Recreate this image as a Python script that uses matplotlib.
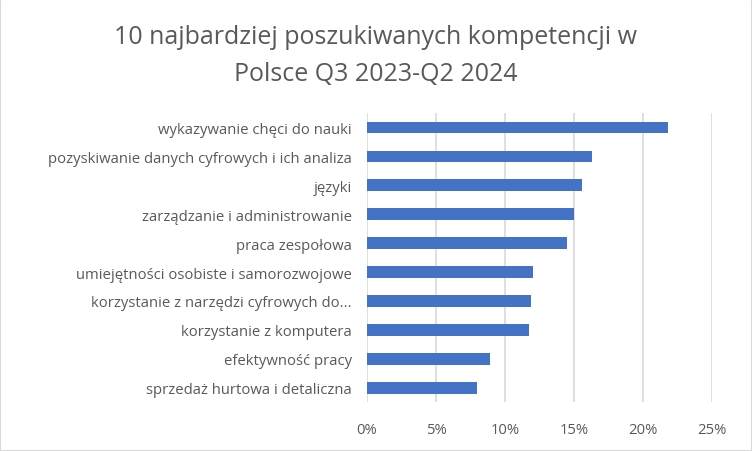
import matplotlib.pyplot as plt
from matplotlib.ticker import PercentFormatter
from matplotlib.patches import Rectangle

# Data (percent of offers)
skills = ['wykazywanie chęci do nauki',
          'pozyskiwanie danych cyfrowych i ich analiza',
          'języki',
          'zarządzanie i administrowanie',
          'praca zespołowa',
          'umiejętności osobiste i samorozwojowe',
          'korzystanie z narzędzi cyfrowych do...',
          'korzystanie z komputera',
          'efektywność pracy',
          'sprzedaż hurtowa i detaliczna']
shares = [21.8, 16.3, 15.6, 15.0, 14.5, 12.0, 11.9, 11.7, 8.9, 8.0]
xticks = [0, 5, 10, 15, 20, 25]

plt.rcParams['font.family'] = ['Open Sans', 'DejaVu Sans']
text_col = '#595959'

fig = plt.figure(figsize=(7.52, 4.52), dpi=100)
ax = fig.add_axes([0.488, 0.108, 0.459, 0.64])

ypos = list(range(len(skills)))
ax.barh(ypos, shares, height=0.4, color='#4472C4', zorder=3)
ax.set_yticks(ypos)
ax.set_yticklabels(skills, fontsize=10.7, color=text_col)
ax.set_ylim(len(skills) - 0.5, -0.5)

ax.set_xlim(0, 25)
ax.set_xticks(xticks)
ax.xaxis.set_major_formatter(PercentFormatter(decimals=0))
ax.tick_params(axis='x', labelsize=10.7, colors=text_col, length=0, pad=14)
ax.tick_params(axis='y', length=0, pad=11)
ax.grid(axis='x', color='#d9d9d9', linewidth=1.2, zorder=0)
for s in ax.spines.values():
    s.set_visible(False)

fig.text(0.5, 0.876, '10 najbardziej poszukiwanych kompetencji w\nPolsce Q3 2023-Q2 2024',
         ha='center', va='center', fontsize=18, color=text_col, linespacing=1.6)

fig.patches.append(Rectangle((0, 0), 1, 1, transform=fig.transFigure, fill=False,
                             edgecolor='#d9d9d9', linewidth=1.5))

fig.savefig('out.png', dpi=100)
